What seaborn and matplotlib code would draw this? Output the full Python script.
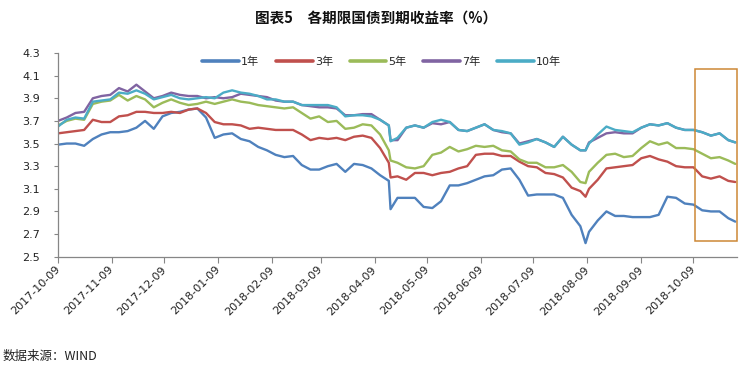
import pandas as pd
import matplotlib
matplotlib.use("Agg")
import matplotlib.pyplot as plt
import matplotlib.dates as mdates
from matplotlib.patches import Rectangle
import seaborn as sns

# ── Data (~5-day sampling) ─────────────────────────────────────────────────────
DATES = [
    "2017-10-09", "2017-10-14", "2017-10-19", "2017-10-24", "2017-10-29",
    "2017-11-03", "2017-11-08", "2017-11-13", "2017-11-18", "2017-11-23",
    "2017-11-28", "2017-12-03", "2017-12-08", "2017-12-13", "2017-12-18",
    "2017-12-23", "2017-12-28", "2018-01-02", "2018-01-07", "2018-01-12",
    "2018-01-17", "2018-01-22", "2018-01-27", "2018-02-01", "2018-02-06",
    "2018-02-11", "2018-02-16", "2018-02-21", "2018-02-26", "2018-03-03",
    "2018-03-08", "2018-03-13", "2018-03-18", "2018-03-23", "2018-03-28",
    "2018-04-02", "2018-04-07", "2018-04-12", "2018-04-17", "2018-04-18",
    "2018-04-22", "2018-04-27", "2018-05-02", "2018-05-07", "2018-05-12",
    "2018-05-17", "2018-05-22", "2018-05-27", "2018-06-01", "2018-06-06",
    "2018-06-11", "2018-06-16", "2018-06-21", "2018-06-26", "2018-07-01",
    "2018-07-06", "2018-07-11", "2018-07-16", "2018-07-21", "2018-07-26",
    "2018-07-31", "2018-08-05", "2018-08-08", "2018-08-10", "2018-08-15",
    "2018-08-20", "2018-08-25", "2018-08-30", "2018-09-04", "2018-09-09",
    "2018-09-14", "2018-09-19", "2018-09-24", "2018-09-29", "2018-10-04",
    "2018-10-09", "2018-10-14", "2018-10-19", "2018-10-24", "2018-10-29",
    "2018-11-02",
]

Y1 = [3.49, 3.50, 3.50, 3.48, 3.54, 3.58, 3.60, 3.60, 3.61, 3.64,
      3.70, 3.63, 3.74, 3.77, 3.78, 3.80, 3.81, 3.73, 3.55, 3.58,
      3.59, 3.54, 3.52, 3.47, 3.44, 3.40, 3.38, 3.39, 3.31, 3.27,
      3.27, 3.30, 3.32, 3.25, 3.32, 3.31, 3.28, 3.22, 3.17, 2.92,
      3.02, 3.02, 3.02, 2.94, 2.93, 2.99, 3.13, 3.13, 3.15, 3.18,
      3.21, 3.22, 3.27, 3.28, 3.18, 3.04, 3.05, 3.05, 3.05, 3.02,
      2.87, 2.77, 2.62, 2.72, 2.82, 2.90, 2.86, 2.86, 2.85, 2.85,
      2.85, 2.87, 3.03, 3.02, 2.97, 2.96, 2.91, 2.90, 2.90, 2.84,
      2.81]

Y3 = [3.59, 3.60, 3.61, 3.62, 3.71, 3.69, 3.69, 3.74, 3.75, 3.78,
      3.78, 3.77, 3.77, 3.78, 3.77, 3.80, 3.81, 3.77, 3.69, 3.67,
      3.67, 3.66, 3.63, 3.64, 3.63, 3.62, 3.62, 3.62, 3.58, 3.53,
      3.55, 3.54, 3.55, 3.53, 3.56, 3.57, 3.55, 3.46, 3.33, 3.20,
      3.21, 3.18, 3.24, 3.24, 3.22, 3.24, 3.25, 3.28, 3.30, 3.40,
      3.41, 3.41, 3.39, 3.39, 3.34, 3.30, 3.29, 3.24, 3.23, 3.20,
      3.11, 3.08, 3.03, 3.10, 3.18, 3.28, 3.29, 3.30, 3.31, 3.37,
      3.39, 3.36, 3.34, 3.30, 3.29, 3.29, 3.21, 3.19, 3.21, 3.17,
      3.16]

Y5 = [3.66, 3.70, 3.72, 3.71, 3.85, 3.87, 3.88, 3.93, 3.88, 3.92,
      3.89, 3.82, 3.86, 3.89, 3.86, 3.84, 3.85, 3.87, 3.85, 3.87,
      3.89, 3.87, 3.86, 3.84, 3.83, 3.82, 3.81, 3.82, 3.77, 3.72,
      3.74, 3.69, 3.70, 3.63, 3.64, 3.67, 3.66, 3.58, 3.44, 3.35,
      3.33, 3.29, 3.28, 3.30, 3.40, 3.42, 3.47, 3.43, 3.45, 3.48,
      3.47, 3.48, 3.44, 3.43, 3.36, 3.33, 3.33, 3.29, 3.29, 3.31,
      3.25, 3.16, 3.15, 3.25, 3.33, 3.40, 3.41, 3.38, 3.39, 3.46,
      3.52, 3.49, 3.51, 3.46, 3.46, 3.45, 3.41, 3.37, 3.38, 3.35,
      3.32]

Y7 = [3.70, 3.73, 3.77, 3.78, 3.90, 3.92, 3.93, 3.99, 3.96, 4.02,
      3.96, 3.90, 3.92, 3.95, 3.93, 3.92, 3.92, 3.90, 3.91, 3.90,
      3.91, 3.94, 3.93, 3.92, 3.91, 3.88, 3.87, 3.87, 3.84, 3.83,
      3.82, 3.82, 3.81, 3.75, 3.75, 3.76, 3.76, 3.71, 3.66, 3.53,
      3.53, 3.64, 3.66, 3.64, 3.68, 3.67, 3.69, 3.62, 3.61, 3.64,
      3.67, 3.62, 3.60, 3.59, 3.50, 3.52, 3.54, 3.51, 3.47, 3.56,
      3.49, 3.44, 3.44, 3.51, 3.55, 3.59, 3.60, 3.59, 3.59, 3.64,
      3.67, 3.66, 3.68, 3.64, 3.62, 3.62, 3.60, 3.57, 3.59, 3.53,
      3.51]

Y10 = [3.65, 3.71, 3.73, 3.72, 3.87, 3.88, 3.89, 3.95, 3.94, 3.97,
       3.94, 3.89, 3.91, 3.93, 3.90, 3.89, 3.90, 3.91, 3.90, 3.95,
       3.97, 3.95, 3.94, 3.92, 3.89, 3.89, 3.87, 3.87, 3.84, 3.84,
       3.84, 3.84, 3.82, 3.74, 3.75, 3.75, 3.74, 3.71, 3.66, 3.52,
       3.55, 3.64, 3.66, 3.64, 3.69, 3.71, 3.69, 3.62, 3.61, 3.64,
       3.67, 3.62, 3.61, 3.59, 3.49, 3.51, 3.54, 3.51, 3.47, 3.56,
       3.49, 3.44, 3.44, 3.50, 3.58, 3.65, 3.62, 3.61, 3.60, 3.64,
       3.67, 3.66, 3.68, 3.64, 3.62, 3.62, 3.60, 3.57, 3.59, 3.53,
       3.51]

TENORS = ["1年", "3年", "5年", "7年", "10年"]
TICK_DATES = ["2017-10-09", "2017-11-09", "2017-12-09", "2018-01-09",
              "2018-02-09", "2018-03-09", "2018-04-09", "2018-05-09",
              "2018-06-09", "2018-07-09", "2018-08-09", "2018-09-09",
              "2018-10-09"]
Y_TICKS = [2.5, 2.7, 2.9, 3.1, 3.3, 3.5, 3.7, 3.9, 4.1, 4.3]

# highlighted window (orange box)
BOX_START, BOX_END = "2018-10-10", "2018-11-03"
BOX_LOW, BOX_HIGH = 2.635, 4.158

# ── Colours (Excel 2007 palette) ───────────────────────────────────────────────
PALETTE = {"1年": "#4F81BD", "3年": "#C0504D", "5年": "#9BBB59",
           "7年": "#8064A2", "10年": "#4BACC6"}
ORANGE = "#CD8735"
AXIS = "#868686"

sns.set_theme(style="white")
plt.rcParams["font.family"] = ["DejaVu Sans", "Noto Sans CJK SC"]
plt.rcParams["axes.unicode_minus"] = False

dates = pd.to_datetime(DATES)
wide = pd.DataFrame({"1年": Y1, "3年": Y3, "5年": Y5, "7年": Y7, "10年": Y10},
                    index=dates)
wide.index.name = "date"
df = wide.reset_index().melt(id_vars="date", var_name="tenor", value_name="yield")

fig = plt.figure(figsize=(7.44, 3.65), dpi=100)
ax = fig.add_axes([0.078, 0.2967, 0.9126, 0.5581])

sns.lineplot(data=df, x="date", y="yield", hue="tenor", hue_order=TENORS,
             palette=PALETTE, linewidth=1.7, ax=ax, estimator=None, sort=True)
for ln in ax.get_lines():
    ln.set_solid_joinstyle("round")

# orange highlight box
x0 = mdates.date2num(pd.Timestamp(BOX_START))
x1 = mdates.date2num(pd.Timestamp(BOX_END))
ax.add_patch(Rectangle((x0, BOX_LOW), x1 - x0, BOX_HIGH - BOX_LOW,
                       fill=False, edgecolor=ORANGE, linewidth=1.1,
                       clip_on=False, zorder=5))

ax.set_xlim(pd.Timestamp("2017-10-09"), pd.Timestamp("2018-11-03"))
ax.set_ylim(2.5, 4.3)
ax.set_yticks(Y_TICKS)
ax.set_yticklabels([f"{v:.1f}" for v in Y_TICKS])
ax.set_xticks(pd.to_datetime(TICK_DATES))
ax.xaxis.set_major_formatter(mdates.DateFormatter("%Y-%m-%d"))
ax.set_xlabel("")
ax.set_ylabel("")

for side in ("top", "right"):
    ax.spines[side].set_visible(False)
for side in ("left", "bottom"):
    ax.spines[side].set_color(AXIS)
    ax.spines[side].set_linewidth(0.9)

ax.tick_params(axis="y", which="major", direction="out", length=3, width=0.8,
               color=AXIS, labelsize=8, labelcolor="#222222", pad=10, left=True)
ax.tick_params(axis="x", which="major", direction="out", length=4, width=0.8,
               color=AXIS, labelsize=8, labelcolor="#222222", pad=4, bottom=True)
for lab in ax.get_xticklabels():
    lab.set_rotation(45)
    lab.set_ha("right")
    lab.set_va("center")
    lab.set_rotation_mode("anchor")

# legend across the top of the plot
handles, labels = ax.get_legend_handles_labels()
leg = ax.legend(handles, labels, loc="center", ncol=5, frameon=False,
                bbox_to_anchor=(0.513, 0.830), bbox_transform=fig.transFigure,
                fontsize=8, handlelength=3.3, handletextpad=0.2,
                columnspacing=1.5)
for ln in leg.get_lines():
    ln.set_linewidth(2.6)

fig.text(0.505, 0.950, "图表5　各期限国债到期收益率（%）", ha="center", va="center",
         fontsize=10.5, fontweight="bold",
         family=["Noto Sans CJK SC", "DejaVu Sans"], color="#111111")
fig.text(0.004, 0.023, "数据来源：WIND", ha="left", va="center", fontsize=9,
         family=["Noto Sans CJK SC", "DejaVu Sans"], color="#222222")

fig.savefig("out.png", dpi=100, facecolor="white")
